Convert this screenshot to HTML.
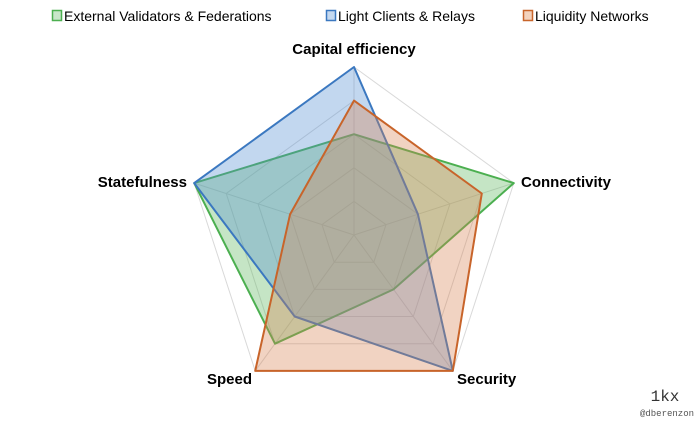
<!DOCTYPE html>
<html><head><style>body{margin:0;background:#fff;}svg{display:block;font-family:"Liberation Sans",sans-serif;}</style></head>
<body>
<svg width="700" height="423" viewBox="0 0 700 423">
<g stroke="#d9d9d9" stroke-width="1" fill="none">
<polygon points="354,201.4 386,224.6 373.8,262.2 334.2,262.2 322,224.6"/>
<polygon points="354,167.8 417.9,214.2 393.5,289.4 314.5,289.4 290.1,214.2"/>
<polygon points="354,134.2 449.9,203.9 413.3,316.5 294.7,316.5 258.1,203.9"/>
<polygon points="354,100.6 481.8,193.5 433,343.7 275,343.7 226.2,193.5"/>
<polygon points="354,67 513.8,183.1 452.8,370.9 255.2,370.9 194.2,183.1"/>
<line x1="354" y1="235" x2="354" y2="67"/><line x1="354" y1="235" x2="513.8" y2="183.1"/><line x1="354" y1="235" x2="452.8" y2="370.9"/><line x1="354" y1="235" x2="255.2" y2="370.9"/><line x1="354" y1="235" x2="194.2" y2="183.1"/>
</g>
<polygon points="354,134.2 513.8,183.1 393.5,289.4 275,343.7 194.2,183.1" fill="rgba(90,180,90,0.35)" stroke="#4caf50" stroke-width="2" stroke-linejoin="round"/>
<polygon points="354,67 417.9,214.2 452.8,370.9 294.7,316.5 194.2,183.1" fill="rgba(80,140,210,0.35)" stroke="#3b78c0" stroke-width="2" stroke-linejoin="round"/>
<polygon points="354,100.6 481.8,193.5 452.8,370.9 255.2,370.9 290.1,214.2" fill="rgba(215,130,80,0.35)" stroke="#c8642a" stroke-width="2" stroke-linejoin="round"/>
<g font-weight="bold" font-size="15" fill="#000">
<text x="354" y="54" text-anchor="middle">Capital efficiency</text>
<text x="521" y="187">Connectivity</text>
<text x="187" y="187" text-anchor="end">Statefulness</text>
<text x="252" y="384" text-anchor="end">Speed</text>
<text x="457" y="384">Security</text>
</g>
<g font-size="14" fill="#000">
<rect x="52.5" y="10.5" width="9" height="10" fill="#c8e6c9" stroke="#4caf50" stroke-width="1.5"/>
<text x="64" y="21">External Validators &amp; Federations</text>
<rect x="326.5" y="10.5" width="9" height="10" fill="#c5d9f0" stroke="#3b78c0" stroke-width="1.5"/>
<text x="338" y="21">Light Clients &amp; Relays</text>
<rect x="523.5" y="10.5" width="9" height="10" fill="#f3d2bd" stroke="#c8642a" stroke-width="1.5"/>
<text x="535" y="21">Liquidity Networks</text>
</g>
<text x="665" y="401" text-anchor="middle" font-family="Liberation Mono,monospace" font-size="16" fill="#333">1kx</text>
<text x="667" y="416" text-anchor="middle" font-family="Liberation Mono,monospace" font-size="9" fill="#555">@dberenzon</text>
</svg>
</body></html>
